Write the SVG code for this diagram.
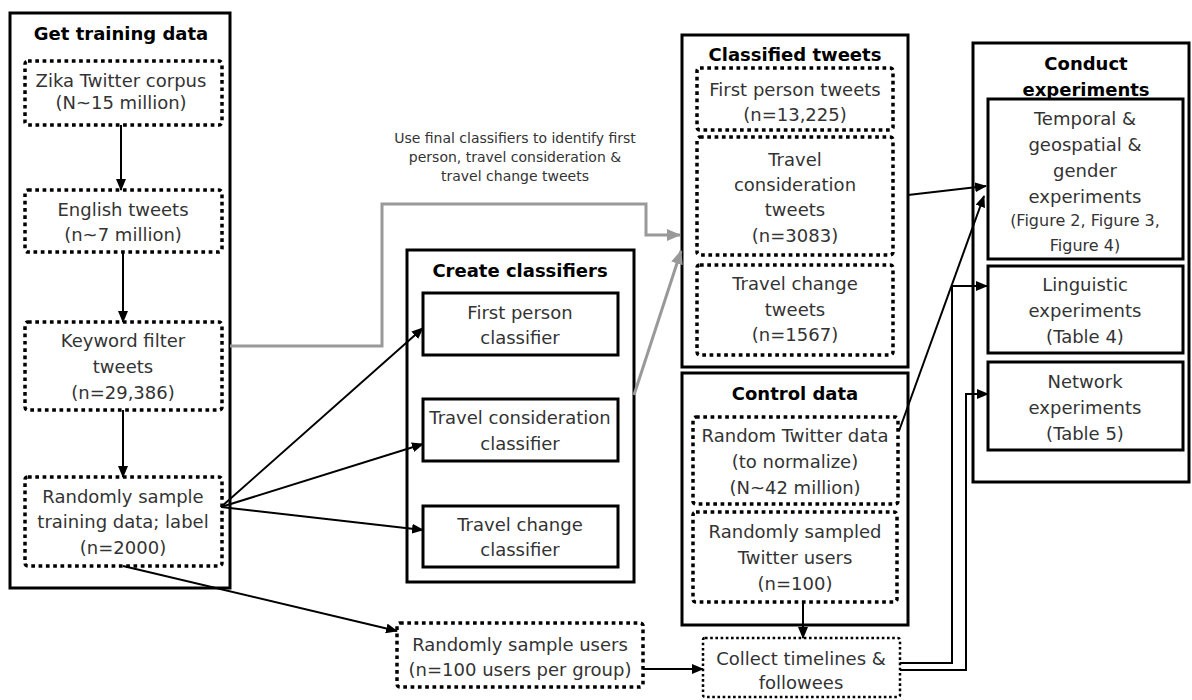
<svg xmlns="http://www.w3.org/2000/svg" width="1192" height="700" viewBox="0 0 1192 700">
<style>
.outer{fill:#fff;stroke:#000;stroke-width:3}
.solid{fill:#fff;stroke:#000;stroke-width:3}
.dot{fill:#fff;stroke:#000;stroke-width:3.5;stroke-dasharray:3.7 3.6}
.dot2{fill:#fff;stroke:#000;stroke-width:2.5;stroke-dasharray:2.6 2.6}
.t{font-family:"DejaVu Sans","Liberation Sans",sans-serif;font-size:18px;fill:#333;text-anchor:middle}
.s{font-size:16px}
.lbl{font-family:"DejaVu Sans","Liberation Sans",sans-serif;font-size:14px;fill:#333;text-anchor:middle}
.h{font-family:"DejaVu Sans","Liberation Sans",sans-serif;font-size:18px;font-weight:bold;fill:#000;text-anchor:middle}
.c{fill:none;stroke:#000;stroke-width:2}
.g{fill:none;stroke:#999;stroke-width:3}
</style>
<defs>
<marker id="a" markerUnits="userSpaceOnUse" markerWidth="12" markerHeight="10" refX="11" refY="5" orient="auto"><path d="M0,0 L12,5 L0,10 Z" fill="#000"/></marker>
<marker id="ag" markerUnits="userSpaceOnUse" markerWidth="14" markerHeight="12" refX="13" refY="6" orient="auto"><path d="M0,0 L14,6 L0,12 Z" fill="#999"/></marker>
</defs>
<rect width="1192" height="700" fill="#fff"/>

<g id="get-training-data">
<rect class="outer" x="10" y="13" width="220" height="575"/>
<text class="h" x="121" y="40">Get training data</text>
</g>
<g id="zika-corpus">
<rect class="dot" x="25" y="61" width="197" height="64" rx="3"/>
<text class="t" x="121" y="87">Zika Twitter corpus</text>
<text class="t" x="121" y="109">(N~15 million)</text>
</g>
<g id="english-tweets">
<rect class="dot" x="25" y="190" width="197" height="62" rx="3"/>
<text class="t" x="123" y="216">English tweets</text>
<text class="t" x="123" y="241">(n~7 million)</text>
</g>
<g id="keyword-filter">
<rect class="dot" x="25" y="322" width="197" height="88" rx="3"/>
<text class="t" x="123" y="347">Keyword filter</text>
<text class="t" x="123" y="373">tweets</text>
<text class="t" x="123" y="399">(n=29,386)</text>
</g>
<g id="random-sample-training">
<rect class="dot" x="25" y="477" width="197" height="89" rx="3"/>
<text class="t" x="123" y="503">Randomly sample</text>
<text class="t" x="123" y="528">training data; label</text>
<text class="t" x="123" y="554">(n=2000)</text>
</g>

<g id="create-classifiers">
<rect class="outer" x="407" y="250" width="227" height="332"/>
<text class="h" x="520" y="277">Create classifiers</text>
</g>
<g id="first-person-classifier">
<rect class="solid" x="423" y="293" width="195" height="62"/>
<text class="t" x="520" y="319">First person</text>
<text class="t" x="520" y="344">classifier</text>
</g>
<g id="travel-consideration-classifier">
<rect class="solid" x="423" y="399" width="195" height="62"/>
<text class="t" x="520" y="424">Travel consideration</text>
<text class="t" x="520" y="450">classifier</text>
</g>
<g id="travel-change-classifier">
<rect class="solid" x="423" y="506" width="195" height="61"/>
<text class="t" x="520" y="531">Travel change</text>
<text class="t" x="520" y="556">classifier</text>
</g>

<g id="random-sample-users">
<rect class="dot" x="397" y="623" width="246" height="64" rx="3"/>
<text class="t" x="520" y="651">Randomly sample users</text>
<text class="t" x="520" y="676">(n=100 users per group)</text>
</g>

<g id="classified-tweets">
<rect class="outer" x="682" y="35" width="226" height="332"/>
<text class="h" x="795" y="61">Classified tweets</text>
</g>
<g id="first-person-tweets">
<rect class="dot" x="697" y="68" width="196" height="62" rx="3"/>
<text class="t" x="795" y="96">First person tweets</text>
<text class="t" x="795" y="121">(n=13,225)</text>
</g>
<g id="travel-consideration-tweets">
<rect class="dot" x="697" y="137" width="196" height="118" rx="3"/>
<text class="t" x="795" y="166">Travel</text>
<text class="t" x="795" y="191">consideration</text>
<text class="t" x="795" y="216">tweets</text>
<text class="t" x="795" y="242">(n=3083)</text>
</g>
<g id="travel-change-tweets">
<rect class="dot" x="697" y="265" width="196" height="90" rx="3"/>
<text class="t" x="795" y="290">Travel change</text>
<text class="t" x="795" y="316">tweets</text>
<text class="t" x="795" y="341">(n=1567)</text>
</g>

<g id="control-data">
<rect class="outer" x="682" y="373" width="226" height="252"/>
<text class="h" x="795" y="400">Control data</text>
</g>
<g id="random-twitter-data">
<rect class="dot" x="693" y="417" width="205" height="87" rx="3"/>
<text class="t" x="795" y="442">Random Twitter data</text>
<text class="t" x="795" y="468">(to normalize)</text>
<text class="t" x="795" y="494">(N~42 million)</text>
</g>
<g id="random-twitter-users">
<rect class="dot" x="693" y="512" width="204" height="90" rx="3"/>
<text class="t" x="795" y="538">Randomly sampled</text>
<text class="t" x="795" y="564">Twitter users</text>
<text class="t" x="795" y="590">(n=100)</text>
</g>

<g id="collect-timelines">
<rect class="dot2" x="703" y="638" width="197" height="59" rx="2"/>
<text class="t" x="801" y="665">Collect timelines &amp;</text>
<text class="t" x="801" y="689">followees</text>
</g>

<g id="conduct-experiments">
<rect class="outer" x="973" y="43" width="216" height="439"/>
<text class="h" x="1086" y="70">Conduct</text>
<text class="h" x="1086" y="96">experiments</text>
</g>
<g id="temporal-experiments">
<rect class="solid" x="988" y="99" width="195" height="160"/>
<text class="t" x="1085" y="125">Temporal &amp;</text>
<text class="t" x="1085" y="151">geospatial &amp;</text>
<text class="t" x="1085" y="177">gender</text>
<text class="t" x="1085" y="203">experiments</text>
<text class="t s" x="1085" y="226">(Figure 2, Figure 3,</text>
<text class="t s" x="1085" y="251">Figure 4)</text>
</g>
<g id="linguistic-experiments">
<rect class="solid" x="988" y="266" width="195" height="87"/>
<text class="t" x="1085" y="291">Linguistic</text>
<text class="t" x="1085" y="317">experiments</text>
<text class="t" x="1085" y="343">(Table 4)</text>
</g>
<g id="network-experiments">
<rect class="solid" x="988" y="362" width="195" height="88"/>
<text class="t" x="1085" y="388">Network</text>
<text class="t" x="1085" y="414">experiments</text>
<text class="t" x="1085" y="440">(Table 5)</text>
</g>

<g id="connectors">
<line class="c" x1="121" y1="125" x2="121" y2="190" marker-end="url(#a)"/>
<line class="c" x1="123" y1="252" x2="123" y2="322" marker-end="url(#a)"/>
<line class="c" x1="123" y1="410" x2="123" y2="477" marker-end="url(#a)"/>
<line class="c" x1="221" y1="507" x2="423" y2="328" marker-end="url(#a)"/>
<line class="c" x1="221" y1="507" x2="423" y2="444" marker-end="url(#a)"/>
<line class="c" x1="221" y1="507" x2="423" y2="530" marker-end="url(#a)"/>
<line class="c" x1="123" y1="566" x2="397" y2="631" marker-end="url(#a)"/>
<line class="c" x1="643" y1="669" x2="703" y2="669" marker-end="url(#a)"/>
<line class="c" x1="803" y1="602" x2="803" y2="638" marker-end="url(#a)"/>
<line class="c" x1="908" y1="195" x2="986" y2="186" marker-end="url(#a)"/>
<line class="c" x1="899" y1="431" x2="984" y2="196" marker-end="url(#a)"/>
<polyline class="c" points="900,663 952,663 952,286 987,286" marker-end="url(#a)"/>
<polyline class="c" points="900,670 966,670 966,394 988,394" marker-end="url(#a)"/>
<polyline class="g" points="230,346 382,346 382,204 646,204 646,235 680,235" marker-end="url(#ag)"/>
<line class="g" x1="634" y1="395" x2="681" y2="251" marker-end="url(#ag)"/>
<text class="lbl" x="515" y="143">Use final classifiers to identify first</text>
<text class="lbl" x="515" y="162">person, travel consideration &amp;</text>
<text class="lbl" x="515" y="181">travel change tweets</text>
</g>
</svg>
